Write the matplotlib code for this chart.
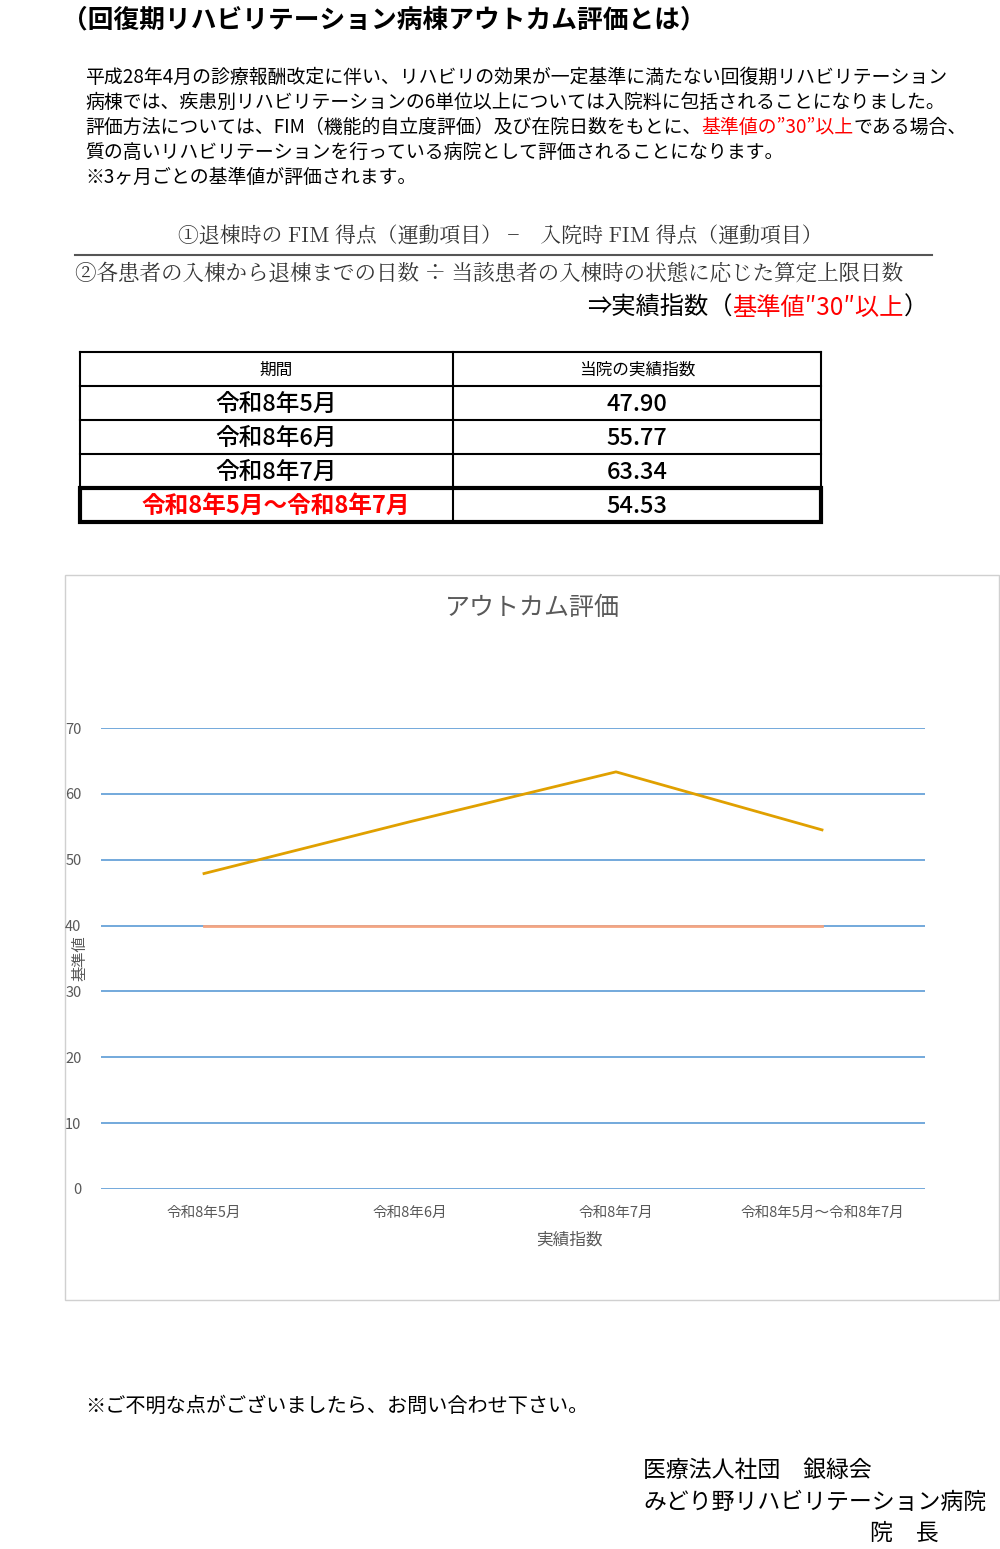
import matplotlib
matplotlib.use("Agg")
import matplotlib.pyplot as plt
from matplotlib.patches import Rectangle

plt.rcParams['font.family'] = ['Noto Sans CJK JP', 'DejaVu Sans']

periods = ["令和8年5月", "令和8年6月", "令和8年7月", "令和8年5月～令和8年7月"]
index_values = [47.90, 55.77, 63.34, 54.53]
baseline = [40, 40, 40, 40]
yticks = [0, 10, 20, 30, 40, 50, 60, 70]

W, H = 1000, 1549
fig = plt.figure(figsize=(W/100, H/100), dpi=100)
bg = fig.add_axes([0, 0, 1, 1])
bg.set_xlim(0, W); bg.set_ylim(H, 0); bg.axis('off')
renderer = fig.canvas.get_renderer()

def T(x, y, s, size, color='black', ha='left', **kw):
    return bg.text(x, y, s, fontsize=size, color=color, ha=ha, va='center', **kw)

def chain(x, y, parts, size, **kw):
    for s, c in parts:
        t = T(x, y, s, size, color=c, **kw)
        ext = t.get_window_extent(renderer)
        x += ext.width

P = 13.6
T(62, 20, "（回復期リハビリテーション病棟アウトカム評価とは）", 18.5, weight='bold')
T(85, 77, "平成28年4月の診療報酬改定に伴い、リハビリの効果が一定基準に満たない回復期リハビリテーション", P)
T(85, 102, "病棟では、疾患別リハビリテーションの6単位以上については入院料に包括されることになりました。", P)
chain(85, 127, [("評価方法については、FIM（機能的自立度評価）及び在院日数をもとに、", 'black'),
                ("基準値の”30”以上", 'red'), ("である場合、", 'black')], P)
T(85, 152, "質の高いリハビリテーションを行っている病院として評価されることになります。", P)
T(85, 177, "※3ヶ月ごとの基準値が評価されます。", P)

serif = ['Noto Serif CJK JP', 'Noto Sans CJK JP', 'DejaVu Sans']
T(500, 236, "①退棟時の FIM 得点（運動項目） −　入院時 FIM 得点（運動項目）", 15, ha='center', color='#333333', family=serif)
bg.plot([75, 932], [255, 255], color='#555555', lw=1.5)
T(75, 273, "②各患者の入棟から退棟までの日数 ÷ 当該患者の入棟時の状態に応じた算定上限日数", 15.5, color='#333333', family=serif)
chain(587, 308, [("⇒実績指数（", 'black'), ("基準値″30″以上", 'red'), ("）", 'black')], 17.5)

# table
rows = [("期間", "当院の実績指数", 12, 'black')] + \
       [(p, f"{v:.2f}", 17, 'black') for p, v in zip(periods, index_values)]
rows[-1] = (rows[-1][0], rows[-1][1], 17, 'red')
ys = [352, 386, 420, 454, 488, 522]
for y in ys:
    bg.plot([80, 821], [y, y], color='black', lw=1.5)
for x in [80, 453, 821]:
    bg.plot([x, x], [352, 522], color='black', lw=1.5)
bg.add_patch(Rectangle((80, 488), 741, 34, fill=False, lw=3, ec='black'))
for i, (a, b, fs, c) in enumerate(rows):
    yc = (ys[i] + ys[i+1]) / 2 + 1
    w = 'normal' if i == 0 else 'medium'
    T(276, yc, a, fs, color=c, ha='center', weight='bold' if c == 'red' else w)
    T(637, yc, b, fs, ha='center', weight=w)

# chart frame
bg.add_patch(Rectangle((65, 575), 934, 725, fill=False, lw=1, ec='#d0d0d0'))
T(532, 608, "アウトカム評価", 18, color='#595959', ha='center')

ax = fig.add_axes([101/W, 1 - 1189/H, 824/W, (1189-728)/H])
x = range(len(periods))
ax.set_xlim(-0.5, len(periods) - 0.5)
ax.set_ylim(0, 70)
ax.set_yticks(yticks)
ax.yaxis.grid(True, color='#5b9bd5', lw=1.2)
ax.set_axisbelow(True)
for s in ax.spines.values():
    s.set_visible(False)
ax.tick_params(length=0, colors='#595959', labelsize=10.5)
ax.tick_params(axis='y', pad=14)
ax.tick_params(axis='x', pad=12)
ax.set_xticks(list(x))
ax.set_xticklabels(periods)
ax.plot(x, index_values, color='#e0a000', lw=2)
ax.plot(x, baseline, color='#f4a582', lw=2)
T(569, 1240, "実績指数", 12, color='#595959', ha='center')
T(80, 958, "基準値", 11, color='#595959', ha='center', rotation=90)

T(85, 1406, "※ご不明な点がございましたら、お問い合わせ下さい。", 14.5)
T(643, 1470, "医療法人社団　銀緑会", 16.5)
T(643, 1502, "みどり野リハビリテーション病院", 16.5)
T(870, 1533, "院　長", 16.5)

fig.savefig("out.png", dpi=100)
